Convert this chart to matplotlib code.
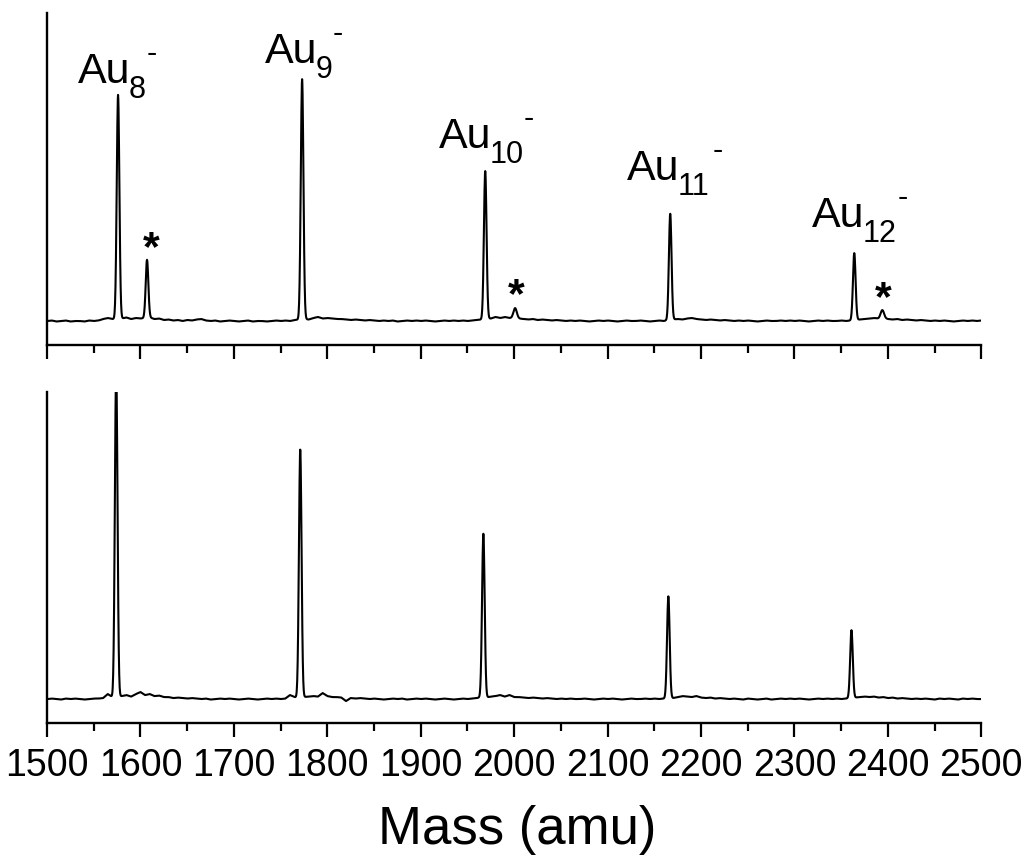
import numpy as np
import matplotlib
matplotlib.use("Agg")
import matplotlib.pyplot as plt
from matplotlib.ticker import MultipleLocator

plt.rcParams['font.family'] = ['Liberation Sans', 'DejaVu Sans']

# baseline read every 5 amu, 1500..2500
base_mass = np.arange(1500, 2501, 5)
top_base = [
    0, 0.5, -0.5, 0, 0.5, -0.5, 0, 0, -0.5, 0.5, 0, 0.5, 2, 3, 2, 2, 2.5, 3.5, 2, 3,
    2.5, 3, 3.5, 2, 2.5, 1, 1.5, 0.5, 1, 0, 1, 0.5, 1.5, 2, 0.5, 0, 0.5, -0.5, 0, 0.5,
    0, -0.5, 0, 0.5, -0.5, 0, 0, -0.5, 0, 0.5, 0, 0.5, 0, 1, 1.5, 2, 1.5, 3, 4, 2.5,
    3, 2.5, 2, 2, 1.5, 1, 1.5, 1, 0.5, 1, 0.5, 0, 0.5, 0, 0.5, -0.5, 0, 0.5, 0, 0.5,
    0, 0.5, 0, -0.5, 0, 0.5, 0, 0.5, 0, 0.5, 0, 0.5, 1, 1.5, 2, 2.5, 4, 3, 4, 3,
    3, 2.5, 2, 1.5, 2, 1, 1.5, 1, 0.5, 1, 0.5, 0, 0.5, 0, 0.5, 0, -0.5, 0, 0.5, 0,
    0.5, 0, -0.5, 0, 0.5, 0, 0, 0.5, 0, -0.5, 0, 0.5, 0, 1, 1.5, 2, 1.5, 2.5, 3, 2,
    1.5, 1, 1.5, 1, 0.5, 1, 0.5, 0, 0.5, 0, 0.5, 0, -0.5, 0, 0.5, 0, 0, 0.5, 0, 0.5,
    0, 0.5, 0, -0.5, 0, 0.5, 0, 0.5, 0, 0, 0.5, 0, 0.5, 1, 1.5, 2, 2.5, 3, 2.5, 3,
    2, 1.5, 2, 1, 1.5, 1, 0.5, 1, 0.5, 0, 0.5, 0, 0.5, 0, -0.5, 0, 0.5, 0, 0.5, 0, 0.5,
]
bot_base = [
    0, 0.5, 0, -0.5, 0.5, 0, 0.5, 0, -0.5, 0, 0.5, 0.5, 1, 5, 2, 2, 3, 4, 2.5, 5,
    7, 4, 5, 3, 3.5, 2, 2, 1, 1.5, 1, 0.5, 1, 0.5, 0, 0.5, -0.5, 0, 0.5, 0, 0.5,
    0, -0.5, 0, 0.5, 0, -0.5, 0, 0.5, 0, 0.5, 0, 0.5, 4, 2, 1, 2, 2.5, 3, 2.5, 6,
    3, 2, 2, 1.5, -2, 1, 0.5, 1, 0.5, 0, 0.5, 0, -0.5, 0, 0.5, 0, 0.5, -0.5, 0, 0.5,
    0, 0.5, 0, -0.5, 0, 0.5, 0, -0.5, 0, 0.5, 0, 0.5, 1, 2, 1.5, 2.5, 3, 4, 2.5, 4,
    2, 2, 1.5, 1, 1.5, 1, 0.5, 1, 0.5, 0, 0.5, 0, 0.5, 0, 0, 0.5, 0, -0.5, 0, 0.5,
    0, 0.5, 0, -0.5, 0, 0.5, 0, 0, 0.5, 0, 0.5, 0, 0.5, 1, 1, 2, 3, 2.5, 2, 3,
    1.5, 1, 1.5, 0.5, 1, 0.5, 0, 0.5, 0, -0.5, 0.5, 0, -0.5, 0, 0.5, -0.5, 0, 0.5, 0, 0.5,
    0, 0.5, 0, -0.5, 0, 0.5, 0, 0.5, 0, 0.5, 0, 0.5, 1, 1.5, 2, 2.5, 2, 2.5, 1.5, 2,
    1, 1.5, 0.5, 1, 0.5, 0, 0.5, 0, 0.5, 0, -0.5, 0.5, 0, 0.5, 0, -0.5, 0.5, 0, 0.5, 0, 0,
]

# peaks: position (amu), height, width (sigma, amu)
top_pos = [1576, 1607, 1773, 1969, 2001, 2167, 2364, 2394]
top_height = [224, 58, 240, 148, 10, 106, 67, 8]
top_width = [1.4, 1.4, 1.4, 1.4, 1.8, 1.4, 1.4, 1.8]

bot_pos = [1574, 1771, 1967, 2165, 2361]
bot_height = [330, 249, 164, 102, 68]
bot_width = [1.4, 1.4, 1.4, 1.4, 1.4]

labels = ['8', '9', '10', '11', '12']
label_x = [1533, 1733, 1919, 2121, 2319]
label_y = [238, 258, 173, 141, 94]
star_x = [1611, 2002, 2395]
star_y = [61, 14, 11]


def spectrum(m, base, pos, height, width):
    y = np.interp(m, base_mass, base)
    for p, h, w in zip(pos, height, width):
        y = y + h * np.exp(-0.5 * ((m - p) / w) ** 2)
    return y


mass = np.arange(1500, 2500.01, 0.25)
top = spectrum(mass, top_base, top_pos, top_height, top_width)
bot = spectrum(mass, bot_base, bot_pos, bot_height, bot_width)

fig = plt.figure(figsize=(10.25, 8.61), dpi=100)
ax1 = fig.add_axes([0.0459, 0.5993, 0.9115, 0.3856])
ax2 = fig.add_axes([0.0459, 0.1603, 0.9115, 0.3844])

ax1.plot(mass, top, color='black', lw=1.5)
ax2.plot(mass, bot, color='black', lw=1.5)

for ax in (ax1, ax2):
    ax.set_xlim(1500, 2500)
    ax.set_ylim(-24, 308)
    ax.spines['top'].set_visible(False)
    ax.spines['right'].set_visible(False)
    ax.spines['left'].set_linewidth(1.7)
    ax.spines['bottom'].set_linewidth(1.7)
    ax.set_yticks([])
    ax.xaxis.set_major_locator(MultipleLocator(100))
    ax.xaxis.set_minor_locator(MultipleLocator(50))
    ax.tick_params(axis='x', which='major', direction='out', length=10, width=1.6,
                   labelsize=27, pad=8)
    ax.tick_params(axis='x', which='minor', direction='out', length=6, width=1.6)

ax1.tick_params(axis='x', labelbottom=False)

# Au_n^- labels: main text, lowered subscript, raised short dash
for n, x, y in zip(labels, label_x, label_y):
    ax1.annotate('Au', (x, y), fontsize=31, ha='left', va='baseline')
    ax1.annotate(n, (x, y), xytext=(36.5, -11), textcoords='offset points',
                 fontsize=22, ha='left', va='baseline')
    ax1.annotate('-', (x, y), xytext=(37 + 12.2 * len(n), 15), textcoords='offset points',
                 fontsize=22, ha='left', va='baseline')

for x, y in zip(star_x, star_y):
    ax1.text(x, y, '*', fontsize=31, fontweight='bold', ha='center', va='baseline')

fig.text(0.505, 1 - 830 / 861, 'Mass (amu)', fontsize=38, ha='center', va='center')

fig.savefig('out.png', dpi=100)
